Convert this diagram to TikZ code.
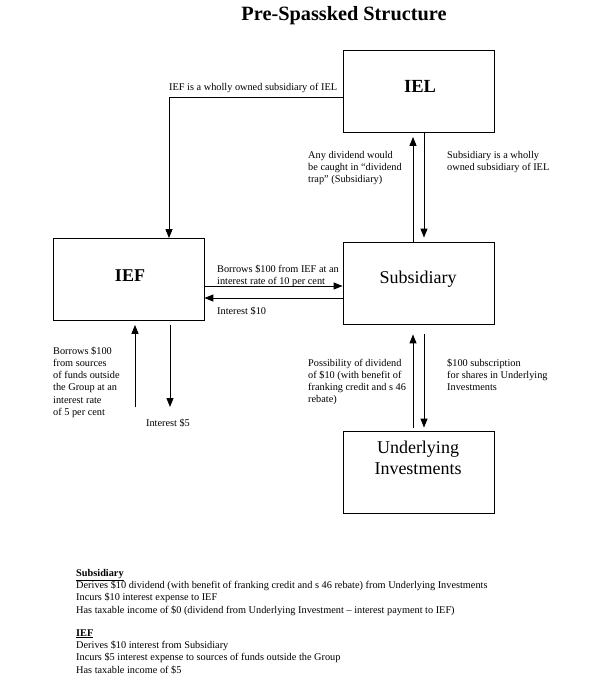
\documentclass[tikz,border=0pt]{standalone}
\usepackage{fontspec}
\setmainfont{Liberation Serif}
\usetikzlibrary{arrows.meta}

\begin{document}
\begin{tikzpicture}[x=1pt,y=-1pt,
    box/.style={draw, line width=0.8pt, minimum width=151pt, minimum height=82pt, inner sep=0pt},
    hd/.style={font=\fontsize{18}{20}\selectfont, anchor=base, inner sep=0pt},
    lbl/.style={font=\fontsize{10.3}{12.3}\selectfont, align=left, anchor=base west, inner sep=0pt},
    flow/.style={line width=0.9pt, -{Triangle[width=7pt,length=9pt]}}]
\useasboundingbox (0,0) rectangle (600,680);

\node[hd, font=\fontsize{20.3}{22}\selectfont\bfseries] (title) at (344,20) {Pre-Spassked Structure};

\node[box] (iel) at (418.5,91.5) {};
\node[box] (ief) at (128.5,279.5) {};
\node[box] (sub) at (418.5,283) {};
\node[box] (ui) at (418.5,472) {};

% multi-line labels sit on the baseline of their last line
\node[hd, font=\fontsize{18.5}{20}\selectfont\bfseries] (ieltxt) at (420,92) {IEL};
\node[hd, font=\fontsize{18}{20}\selectfont\bfseries] (ieftxt) at (130,281) {IEF};
\node[hd] (subtxt) at (418,283) {Subsidiary};
\node[hd, align=center, font=\fontsize{18}{21}\selectfont] (uitxt) at (418,474) {Underlying\\Investments};

% ownership of IEF
\draw[flow] ([yshift=-5.5pt]iel.west) -| ([xshift=40.5pt]ief.north);
\node[lbl] (ownief) at (169,90) {IEF is a wholly owned subsidiary of IEL};

% IEL and Subsidiary
\draw[flow, shorten >=4pt] ([xshift=-5.5pt]sub.north) -- ([xshift=-5.5pt]iel.south);
\draw[flow, shorten >=4pt] ([xshift=5.5pt]iel.south) -- ([xshift=5.5pt]sub.north);
\node[lbl] (trap) at (308,182.6) {Any dividend would\\be caught in ``dividend\\trap'' (Subsidiary)};
\node[lbl] (ownsub) at (447,170.3) {Subsidiary is a wholly\\owned subsidiary of IEL};

% IEF and Subsidiary
\draw[flow] ([yshift=-6.5pt]ief.east) -- ([yshift=-6.5pt]ief.east -| sub.west);
\draw[flow] ([yshift=-18.5pt]ief.east -| sub.west) -- ([yshift=-18.5pt]ief.east);
\node[lbl] (loan) at (217,284.5) {Borrows \$100 from IEF at an\\interest rate of 10 per cent};
\node[lbl] (int10) at (217,314) {Interest \$10};

% outside funds
\coordinate (src) at (135,407);
\coordinate (snk) at (170,407);
\draw[flow, shorten >=4pt] (src) -- (src |- ief.south);
\draw[flow, shorten <=4pt] (snk |- ief.south) -- (snk);
\node[lbl] (outside) at (53,415.5) {Borrows \$100\\from sources\\of funds outside\\the Group at an\\interest rate\\of 5 per cent};
\node[lbl, anchor=base] (int5) at (168,426) {Interest \$5};

% Subsidiary and Underlying Investments
\draw[flow, shorten <=3pt, shorten >=10pt] ([xshift=-5.5pt]ui.north) -- ([xshift=-5.5pt]sub.south);
\draw[flow, shorten <=10pt, shorten >=3pt] ([xshift=5.5pt]sub.south) -- ([xshift=5.5pt]ui.north);
\node[lbl] (divid) at (308,402.9) {Possibility of dividend\\of \$10 (with benefit of\\franking credit and s 46\\rebate)};
\node[lbl] (subscr) at (447,390.6) {\$100 subscription\\for shares in Underlying\\Investments};

% notes
\node[lbl] (subnote) at (76,613) {\underline{\textbf{Subsidiary}}\\
  Derives \$10 dividend (with benefit of franking credit and s 46 rebate) from Underlying Investments\\
  Incurs \$10 interest expense to IEF\\
  Has taxable income of \$0 (dividend from Underlying Investment -- interest payment to IEF)};
\node[lbl] (iefnote) at (76,673) {\underline{\textbf{IEF}}\\
  Derives \$10 interest from Subsidiary\\
  Incurs \$5 interest expense to sources of funds outside the Group\\
  Has taxable income of \$5};
\end{tikzpicture}
\end{document}
